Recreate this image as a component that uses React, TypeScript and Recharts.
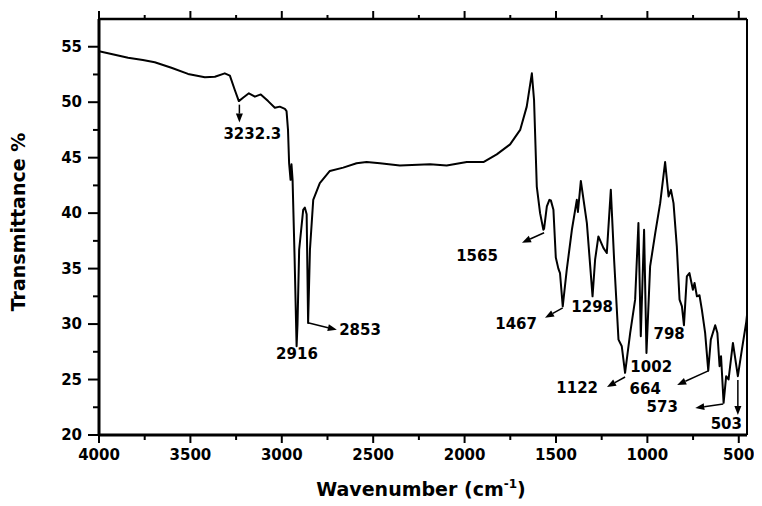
import React from 'react';
import { LineChart, Line, XAxis, YAxis, ReferenceLine, ReferenceDot } from 'recharts';

const FONT = '"DejaVu Sans", "Liberation Sans", sans-serif';

// Spectrum (wavenumber cm-1, transmittance %)
const wavenumbers = [
  4000, 3920, 3841, 3760, 3695, 3604, 3513, 3421, 3366, 3312, 3284, 3257, 3235, 3212, 3180, 3147, 3115,
  3075, 3038, 3011, 2983, 2974, 2966, 2960, 2952, 2947, 2941, 2930, 2919, 2914, 2905, 2883, 2874, 2864,
  2860, 2856, 2846, 2828, 2792, 2737, 2664, 2591, 2536, 2463, 2354, 2189, 2098, 1988, 1897, 1824, 1751,
  1696, 1660, 1632, 1620, 1605, 1587, 1569, 1565, 1550, 1536, 1528, 1514, 1501, 1487, 1478, 1463, 1441,
  1413, 1395, 1386, 1380, 1364, 1331, 1300, 1286, 1268, 1240, 1222, 1200, 1182, 1158, 1140, 1122, 1094,
  1067, 1049, 1036, 1018, 1005, 985, 957, 930, 903, 884, 871, 857, 839, 824, 811, 800, 784, 770, 751, 742,
  729, 715, 702, 684, 667, 653, 629, 617, 605, 597, 583, 569, 556, 532, 505, 483, 459, 455,
];
const transmittance = [
  54.6, 54.3, 54.0, 53.8, 53.6, 53.1, 52.55, 52.25, 52.3, 52.6, 52.4, 51.1, 50.1, 50.4, 50.8, 50.5, 50.7,
  50.1, 49.5, 49.6, 49.4, 49.2, 47.5, 44.5, 43.0, 44.4, 43.0, 36.0, 28.0, 30.0, 36.7, 40.3, 40.5, 39.9,
  35.0, 30.1, 36.7, 41.2, 42.7, 43.8, 44.1, 44.5, 44.6, 44.5, 44.3, 44.4, 44.3, 44.6, 44.6, 45.3, 46.2,
  47.5, 49.6, 52.6, 50.2, 42.4, 40.0, 38.5, 38.6, 40.6, 41.2, 41.15, 40.3, 36.0, 35.0, 34.6, 31.6, 34.9,
  38.5, 40.3, 41.2, 40.1, 42.9, 39.1, 32.5, 35.8, 37.9, 36.85, 36.4, 42.1, 35.8, 28.6, 28.0, 25.6, 29.2,
  32.2, 39.1, 28.9, 38.5, 27.4, 35.2, 38.2, 40.9, 44.6, 41.5, 42.1, 40.9, 37.0, 32.2, 31.6, 29.9, 34.3, 34.6, 33.1, 33.7,
  32.5, 32.6, 31.3, 29.2, 25.8, 28.6, 29.9, 29.2, 26.2, 27.1, 22.9, 25.3, 25.0, 28.3, 25.3, 27.7, 30.2, 30.8,
];

const xTicks = [500, 750, 1000, 1250, 1500, 1750, 2000, 2250, 2500, 2750, 3000, 3250, 3500, 3750, 4000];
const yTicks = [20, 22.5, 25, 27.5, 30, 32.5, 35, 37.5, 40, 42.5, 45, 47.5, 50, 52.5, 55];
const xDomain = [455, 4000];
const yDomain = [20, 57.5];

// Peak annotations (label text, label position, optional arrow)
const peakLabels = ['3232.3', '2916', '2853', '1565', '1467', '1298', '798', '1002', '1122', '664', '573', '503'];
const labelWn = [3161, 2917, 2572, 1932, 1718, 1302, 881, 979, 1384, 1012, 919, 568];
const labelT = [47.17, 27.31, 29.48, 36.16, 30.02, 31.55, 29.12, 26.14, 24.24, 24.15, 22.53, 20.99];
const arrowFromWn = [3232, null, 2857, 1565, 1463, null, null, null, 1122, 667, 585, 505];
const arrowFromT = [49.78, null, 30.11, 38.23, 31.46, null, null, null, 25.23, 25.78, 22.8, 24.96];
const arrowToWn = [3232, null, 2699, 1686, 1560, null, null, null, 1221, 837, 738, 505];
const arrowToT = [48.16, null, 29.48, 37.33, 30.56, null, null, null, 24.33, 24.51, 22.44, 21.8];

const data = wavenumbers.map((wn, i) => ({ wn, t: transmittance[i] }));

const tickText = { fontFamily: FONT, fontWeight: 'bold', fontSize: 15, fill: '#000' } as const;

const BottomTick = (props: any) => {
  const { x, y, payload } = props;
  const major = payload.value % 500 === 0;
  return (
    <g>
      <line x1={x} y1={y} x2={x} y2={y + (major ? 8 : 5)} stroke="#000" strokeWidth={2} />
      {major && (
        <text x={x} y={y + 20} textAnchor="middle" dominantBaseline="central" {...tickText}>
          {payload.value}
        </text>
      )}
    </g>
  );
};

const TopTick = (props: any) => {
  const { x, y, payload } = props;
  const major = payload.value % 500 === 0;
  return <line x1={x} y1={y} x2={x} y2={y - (major ? 8 : 4)} stroke="#000" strokeWidth={2} />;
};

const LeftTick = (props: any) => {
  const { x, y, payload } = props;
  const major = payload.value % 5 === 0;
  return (
    <g>
      <line x1={x} y1={y} x2={x - (major ? 11 : 6)} y2={y} stroke="#000" strokeWidth={2} />
      {major && (
        <text x={x - 17} y={y} textAnchor="end" dominantBaseline="central" {...tickText}>
          {payload.value}
        </text>
      )}
    </g>
  );
};

const ArrowShape = (p: any) => {
  const { x1, y1, x2, y2 } = p;
  if ([x1, y1, x2, y2].some((v) => typeof v !== 'number' || isNaN(v))) return null;
  const ang = Math.atan2(y2 - y1, x2 - x1);
  const L = 9;
  const W = 3.5;
  const bx = x2 - L * Math.cos(ang);
  const by = y2 - L * Math.sin(ang);
  const px = -Math.sin(ang) * W;
  const py = Math.cos(ang) * W;
  return (
    <g>
      <line x1={x1} y1={y1} x2={bx} y2={by} stroke="#000" strokeWidth={1.5} />
      <polygon points={`${x2},${y2} ${bx + px},${by + py} ${bx - px},${by - py}`} fill="#000" />
    </g>
  );
};

const makeLabelShape = (text: string) => (p: any) => (
  <text
    x={p.cx}
    y={p.cy}
    textAnchor="middle"
    dominantBaseline="central"
    fontFamily={FONT}
    fontWeight="bold"
    fontSize={15}
    fill="#000"
  >
    {text}
  </text>
);

const YTitle = () => (
  <text
    x={10}
    y={214}
    transform="rotate(-90 10 214)"
    textAnchor="middle"
    dominantBaseline="central"
    fontFamily={FONT}
    fontWeight="bold"
    fontSize={19}
    fill="#000"
  >
    Transmittance %
  </text>
);

const XTitle = () => (
  <text x={413} y={488} textAnchor="middle" fontFamily={FONT} fontWeight="bold" fontSize={19} fill="#000">
    Wavenumber (cm
    <tspan fontSize={12} dy={-8}>-1</tspan>
    <tspan dy={8}>)</tspan>
  </text>
);

export default function App() {
  return (
    <LineChart width={746} height={498} data={data} margin={{ top: 0, right: 0, bottom: 0, left: 0 }}>
      <XAxis
        dataKey="wn"
        type="number"
        domain={xDomain}
        reversed
        allowDataOverflow
        ticks={xTicks}
        interval={0}
        tickSize={0}
        tickMargin={0}
        tickLine={false}
        tick={<BottomTick />}
        axisLine={{ stroke: '#000', strokeWidth: 3 }}
        height={71}
        label={<XTitle />}
      />
      <XAxis
        xAxisId="top"
        orientation="top"
        dataKey="wn"
        type="number"
        domain={xDomain}
        reversed
        allowDataOverflow
        ticks={xTicks}
        interval={0}
        tickSize={0}
        tickMargin={0}
        tickLine={false}
        tick={<TopTick />}
        axisLine={{ stroke: '#000', strokeWidth: 2.5 }}
        height={11}
      />
      <YAxis
        type="number"
        domain={yDomain}
        allowDataOverflow
        ticks={yTicks}
        interval={0}
        tickSize={0}
        tickMargin={0}
        tickLine={false}
        tick={<LeftTick />}
        axisLine={{ stroke: '#000', strokeWidth: 3 }}
        width={91}
        label={<YTitle />}
      />
      <YAxis
        yAxisId="right"
        orientation="right"
        type="number"
        domain={yDomain}
        allowDataOverflow
        tick={false}
        tickLine={false}
        axisLine={{ stroke: '#000', strokeWidth: 2 }}
        width={7}
      />
      <Line
        type="linear"
        dataKey="t"
        stroke="#000"
        strokeWidth={2}
        dot={false}
        isAnimationActive={false}
        strokeLinejoin="round"
      />
      {peakLabels.map((lab, i) =>
        arrowFromWn[i] != null ? (
          <ReferenceLine
            key={'a' + i}
            segment={[
              { x: arrowFromWn[i] as number, y: arrowFromT[i] as number },
              { x: arrowToWn[i] as number, y: arrowToT[i] as number },
            ]}
            ifOverflow="visible"
            shape={ArrowShape}
          />
        ) : null
      )}
      {peakLabels.map((lab, i) => (
        <ReferenceDot
          key={'l' + i}
          x={labelWn[i]}
          y={labelT[i]}
          r={0}
          ifOverflow="visible"
          shape={makeLabelShape(lab)}
        />
      ))}
    </LineChart>
  );
}
